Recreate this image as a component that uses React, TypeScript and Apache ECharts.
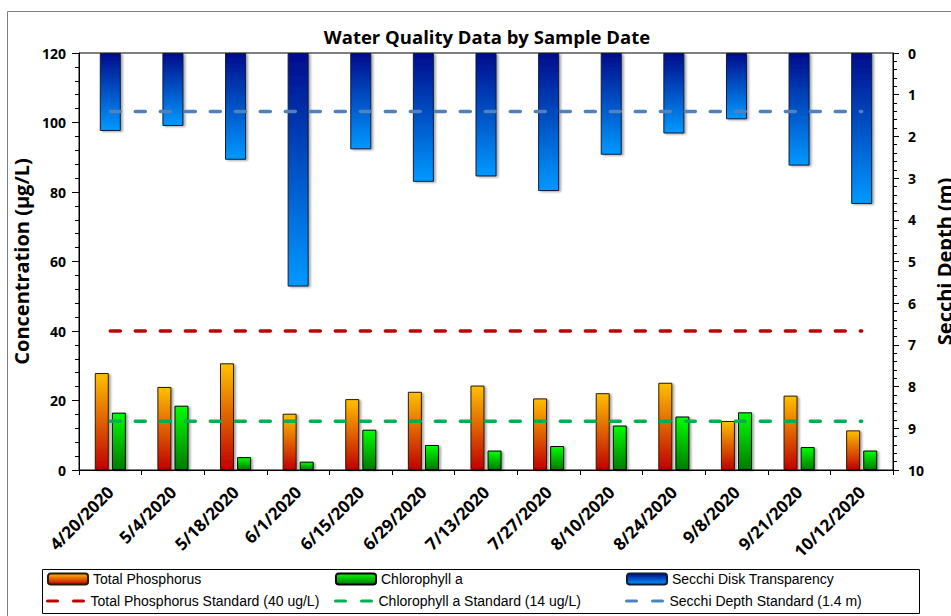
import React, { useEffect, useRef } from "react";
import * as echarts from "echarts";

const dates = [
  "4/20/2020", "5/4/2020", "5/18/2020", "6/1/2020", "6/15/2020", "6/29/2020", "7/13/2020",
  "7/27/2020", "8/10/2020", "8/24/2020", "9/8/2020", "9/21/2020", "10/12/2020",
];
const totalPhosphorus = [27.9, 23.9, 30.7, 16.2, 20.4, 22.5, 24.3, 20.6, 22.1, 25.1, 14.1, 21.4, 11.4];
const chlorophyllA = [16.5, 18.5, 3.7, 2.4, 11.6, 7.2, 5.6, 6.9, 12.8, 15.4, 16.6, 6.6, 5.6];
const secchiDepth = [1.87, 1.75, 2.56, 5.6, 2.31, 3.09, 2.96, 3.31, 2.44, 1.93, 1.59, 2.7, 3.62];
const tpStandard = [40, 40, 40, 40, 40, 40, 40, 40, 40, 40, 40, 40, 40];
const chlStandard = [14, 14, 14, 14, 14, 14, 14, 14, 14, 14, 14, 14, 14];
const secchiStandard = [1.4, 1.4, 1.4, 1.4, 1.4, 1.4, 1.4, 1.4, 1.4, 1.4, 1.4, 1.4, 1.4];

const FONT = "'Open Sans', sans-serif";
const LEG_FONT = "'Liberation Sans', Arial, sans-serif";
const DASH_ICON = "path://M1.5,0h10a1.5,1.5 0 0 1 0,3h-10a1.5,1.5 0 0 1 0,-3z M27.5,0h10a1.5,1.5 0 0 1 0,3h-10a1.5,1.5 0 0 1 0,-3z";

const grad = (top: string, bottom: string) =>
  new echarts.graphic.LinearGradient(0, 0, 0, 1, [
    { offset: 0, color: top },
    { offset: 1, color: bottom },
  ]);

export default function App() {
  const ref = useRef<HTMLDivElement>(null);
  useEffect(() => {
    if (!ref.current) return;
    const chart = echarts.init(ref.current, undefined, { renderer: "svg" });
    const shadow = {
      shadowColor: "rgba(0,0,0,0.35)",
      shadowBlur: 2,
      shadowOffsetX: 2,
      shadowOffsetY: 1,
    };
    const dash = (color: string) => ({
      color,
      width: 3.5,
      type: [10, 15] as any,
      cap: "round" as any,
    });
    const leg = (left: number, top: number, name: string, isLine: boolean) => ({
      orient: "horizontal" as const,
      left,
      top,
      itemWidth: 40,
      itemHeight: isLine ? 3 : 11,
      itemGap: 0,
      padding: 0,
      textStyle: { fontFamily: LEG_FONT, fontSize: 14, color: "#000" },
      selectedMode: false,
      data: [isLine ? { name, icon: DASH_ICON } : { name }],
    });
    chart.setOption({
      animation: false,
      backgroundColor: "#fff",
      title: {
        text: "Water Quality Data by Sample Date",
        left: 482,
        textAlign: "center",
        top: 22,
        textStyle: { fontFamily: FONT, fontSize: 18.5, fontWeight: "bold", color: "#000" },
      },
      grid: {
        left: 79,
        right: 58,
        top: 53,
        bottom: 146,
        containLabel: false,
        outerBoundsMode: "none",
        show: true,
        borderColor: "#000",
        borderWidth: 1,
        backgroundColor: "transparent",
      },
      legend: [
        leg(47, 572, "Total Phosphorus", false),
        leg(46, 594, "Total Phosphorus Standard (40 ug/L)", true),
        leg(335, 572, "Chlorophyll a", false),
        leg(334, 594, "Chlorophyll a Standard (14 ug/L)", true),
        leg(626, 572, "Secchi Disk Transparency", false),
        leg(625, 594, "Secchi Depth Standard (1.4 m)", true),
      ],
      xAxis: [
        {
          type: "category",
          data: dates,
          position: "bottom",
          axisLine: { lineStyle: { color: "#000", width: 1 } },
          axisTick: { show: true, length: 5, lineStyle: { color: "#000" } },
          axisLabel: {
            interval: 0,
            rotate: 45,
            margin: 19,
            fontFamily: FONT,
            fontSize: 17,
            fontWeight: "bold",
            color: "#000",
          },
        },
        {
          type: "category",
          data: dates,
          position: "top",
          show: false,
        },
      ],
      yAxis: [
        {
          type: "value",
          min: 0,
          max: 120,
          interval: 20,
          name: "Concentration (µg/L)",
          nameLocation: "middle",
          nameGap: 46,
          nameRotate: 90,
          nameTextStyle: { fontFamily: FONT, fontSize: 20, fontWeight: "bold", color: "#000" },
          axisLine: { show: true, lineStyle: { color: "#000" } },
          axisTick: { show: true, length: 7, lineStyle: { color: "#000" } },
          minorTick: { show: true, splitNumber: 5, length: 4, lineStyle: { color: "#000" } },
          splitLine: { show: false },
          axisLabel: { fontFamily: FONT, fontSize: 14, fontWeight: "bold", color: "#000", margin: 13 },
        },
        {
          type: "value",
          min: 0,
          max: 10,
          interval: 1,
          inverse: true,
          position: "right",
          name: "Secchi Depth (m)",
          nameLocation: "middle",
          nameGap: 41,
          nameRotate: 90,
          nameTextStyle: { fontFamily: FONT, fontSize: 20, fontWeight: "bold", color: "#000" },
          axisLine: { show: true, lineStyle: { color: "#000" } },
          axisTick: { show: true, length: 6, lineStyle: { color: "#000" } },
          minorTick: { show: true, splitNumber: 5, length: 4, lineStyle: { color: "#000" } },
          splitLine: { show: false },
          axisLabel: { fontFamily: FONT, fontSize: 14, fontWeight: "bold", color: "#000", margin: 15 },
        },
      ],
      series: [
        {
          name: "Secchi Disk Transparency",
          type: "bar",
          xAxisIndex: 1,
          yAxisIndex: 1,
          barWidth: 21,
          data: secchiDepth,
          z: 1,
          itemStyle: {
            color: grad("#000c8c", "#0099ff"),
            borderColor: "#0b1d3a",
            borderWidth: 1,
            ...shadow,
          },
        },
        {
          name: "Total Phosphorus",
          type: "bar",
          xAxisIndex: 0,
          yAxisIndex: 0,
          barWidth: 14,
          barGap: "22%",
          data: totalPhosphorus,
          z: 2,
          itemStyle: {
            color: grad("#ffc000", "#c00000"),
            borderColor: "#2a1a00",
            borderWidth: 1,
            ...shadow,
          },
        },
        {
          name: "Chlorophyll a",
          type: "bar",
          xAxisIndex: 0,
          yAxisIndex: 0,
          barWidth: 14,
          barGap: "22%",
          data: chlorophyllA,
          z: 2,
          itemStyle: {
            color: grad("#00ff00", "#007a00"),
            borderColor: "#000",
            borderWidth: 1,
            ...shadow,
          },
        },
        {
          name: "Total Phosphorus Standard (40 ug/L)",
          type: "line",
          xAxisIndex: 0,
          yAxisIndex: 0,
          data: tpStandard,
          symbol: "none",
          z: 5,
          lineStyle: dash("#c00000"),
          itemStyle: { color: "#c00000" },
        },
        {
          name: "Chlorophyll a Standard (14 ug/L)",
          type: "line",
          xAxisIndex: 0,
          yAxisIndex: 0,
          data: chlStandard,
          symbol: "none",
          z: 5,
          lineStyle: dash("#00b050"),
          itemStyle: { color: "#00b050" },
        },
        {
          name: "Secchi Depth Standard (1.4 m)",
          type: "line",
          xAxisIndex: 0,
          yAxisIndex: 1,
          data: secchiStandard,
          symbol: "none",
          z: 5,
          lineStyle: dash("#4f81bd"),
          itemStyle: { color: "#4f81bd" },
        },
      ],
      graphic: [
        {
          type: "rect",
          left: 5,
          top: 9,
          shape: { x: 0, y: 0, width: 970, height: 640 },
          style: { fill: "none", stroke: "#7f7f7f", lineWidth: 1 },
          silent: true,
          z: -1,
        },
        {
          type: "rect",
          left: 40,
          top: 567,
          shape: { x: 0, y: 0, width: 877, height: 44 },
          style: { fill: "none", stroke: "#000", lineWidth: 1 },
          silent: true,
        },
      ],
    });
    return () => chart.dispose();
  }, []);
  return (
    <div
      ref={ref}
      style={{ position: "absolute", left: 0, top: 0, width: 951, height: 616 }}
    />
  );
}
